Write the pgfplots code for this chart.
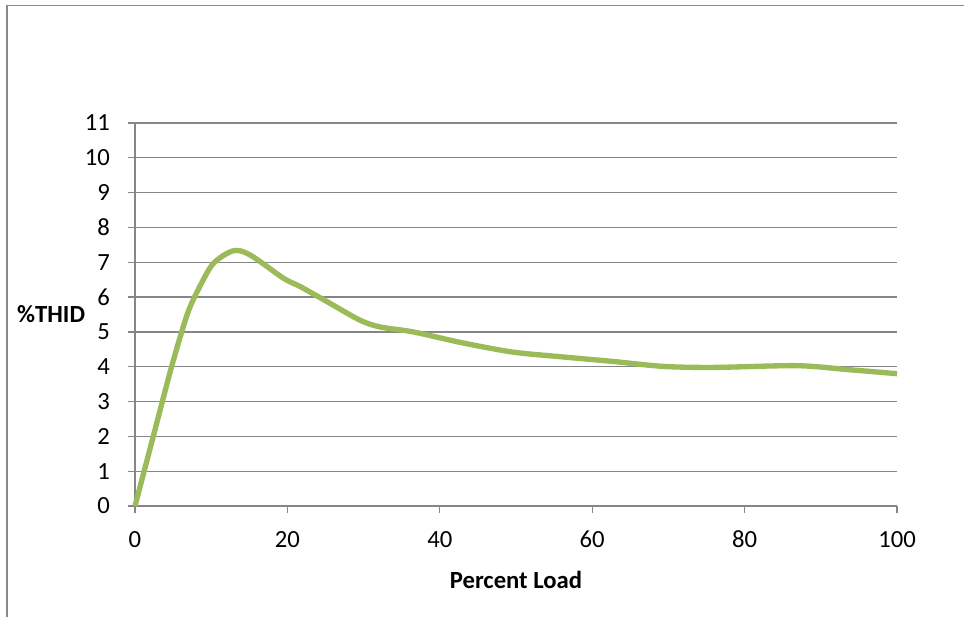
\documentclass[border=0pt]{standalone}
\usepackage{pgfplots}
\pgfplotsset{compat=1.18}
\usepackage{fontspec}
\setmainfont{Carlito}

\definecolor{linegreen}{RGB}{155,187,89}
\definecolor{gridgray}{RGB}{134,134,134}
\definecolor{framegray}{RGB}{137,137,137}

\begin{document}
\begin{tikzpicture}
\path[use as bounding box] (0,0) rectangle (723pt,462.75pt);
\draw[framegray, line width=1.3pt] (5.25pt,0) -- (5.25pt,458.6pt) -- (723pt,458.6pt);
\begin{axis}[
   at={(101.25pt,83.25pt)}, anchor=south west,
   scale only axis,
   width=571.5pt, height=287.25pt,
   xmin=0, xmax=100, ymin=0, ymax=11,
   xtick={0,20,40,60,80,100},
   ytick={0,1,2,3,4,5,6,7,8,9,10,11},
   axis x line*=bottom, axis y line*=left,
   axis line style={gridgray, line width=1pt, -},
   tick style={gridgray, line width=1pt},
   tick align=outside,
   major tick length=5.25pt,
   ymajorgrids,
   grid style={gridgray, line width=1pt},
   font=\fontsize{18.5}{21}\selectfont,
   /pgf/number format/assume math mode=true,
   yticklabel style={xshift=-10pt},
   xticklabel style={yshift=-10pt},
   xlabel={\textbf{Percent Load}},
   ylabel={\textbf{\%THID}},
   xlabel style={at={(axis description cs:0.5,-0.193)}, anchor=center},
   ylabel style={at={(axis description cs:-0.110,0.5)}, rotate=-90, anchor=center},
   clip=false,
]
\addplot[linegreen, line width=4pt, smooth, tension=0.5] coordinates {
   (0,0) (2.4,2.0) (4.8,4.0) (6.9,5.53) (8.5,6.3) (10.3,6.97) (12.9,7.33)
   (15.1,7.21) (19.5,6.54) (21.7,6.3) (25.2,5.87) (29.5,5.34) (32.2,5.14)
   (36.5,5.0) (43.1,4.68) (49.6,4.42) (56.2,4.28) (62.8,4.15) (69.3,4.01)
   (75.9,3.98) (86.8,4.03) (93.4,3.92) (100,3.8)
};
\end{axis}
\end{tikzpicture}
\end{document}
